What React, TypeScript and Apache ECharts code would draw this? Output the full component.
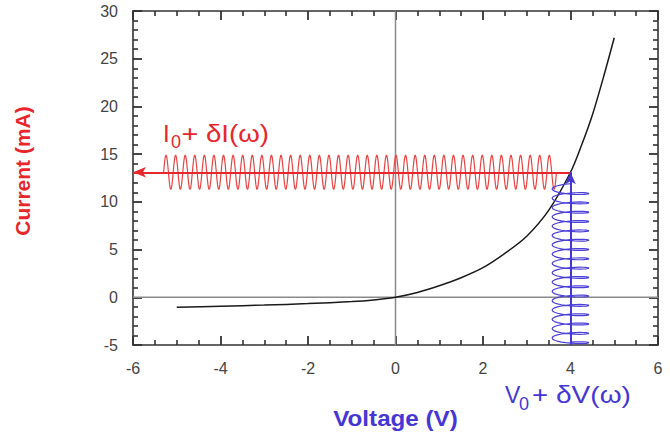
import { useEffect, useRef } from "react";
import * as echarts from "echarts";

// Axis ranges
const X_MIN = -6;
const X_MAX = 6;
const X_INTERVAL = 2;
const Y_MIN = -5;
const Y_MAX = 30;
const Y_INTERVAL = 5;

// I-V characteristic
const voltage = [-5, -4, -3, -2, -1, -0.5, 0, 0.5, 1, 1.5, 2, 2.5, 3, 3.5, 4, 4.25, 4.5, 4.75, 5];
const current = [-1.05, -0.93, -0.82, -0.66, -0.45, -0.28, 0, 0.5, 1.2, 2.05, 3.1, 4.6, 6.4, 9.1, 13.1, 15.9, 19.1, 23.0, 27.2];

// Operating point
const V0 = 4;
const I0 = 13.1;

// Schematic small-signal waves (parameters)
const currentWaveStart = -5.3;
const currentWaveEnd = 3.68;
const currentWaveAmplitude = 1.8;
const currentWaveCycles = 41;

const voltageWaveStart = -5;
const voltageWaveEnd = 11.6;
const voltageWaveAmplitude = 0.42;
const voltageWaveLoop = 0.3;
const voltageWaveCycles = 17;

const RED = "#e8262b";
const BLUE = "#4636d6";
const FRAME = "#333333";

function buildCurrentWave() {
  const n = currentWaveCycles * 16;
  const pts: number[][] = [];
  for (let i = 0; i <= n; i++) {
    const f = i / n;
    pts.push([
      currentWaveStart + (currentWaveEnd - currentWaveStart) * f,
      I0 + currentWaveAmplitude * Math.sin(2 * Math.PI * currentWaveCycles * f),
    ]);
  }
  return pts;
}

function buildVoltageWave() {
  const n = voltageWaveCycles * 24;
  const pts: number[][] = [];
  for (let i = 0; i <= n; i++) {
    const f = i / n;
    const t = 2 * Math.PI * voltageWaveCycles * f;
    pts.push([
      V0 + voltageWaveAmplitude * Math.sin(t),
      voltageWaveStart + (voltageWaveEnd - voltageWaveStart) * f + voltageWaveLoop * Math.cos(t),
    ]);
  }
  return pts;
}

function axis(position: string, showLabel: boolean, splitNumber: number, min: number, max: number, interval: number) {
  return {
    type: "value",
    position,
    min,
    max,
    interval,
    axisLine: { show: true, onZero: false, lineStyle: { color: FRAME, width: 1.6 } },
    axisTick: { show: true, inside: true, length: 9, lineStyle: { color: FRAME, width: 1.8 } },
    minorTick: { show: true, splitNumber, length: 5, lineStyle: { color: FRAME, width: 1.6 } },
    splitLine: { show: false },
    axisLabel: {
      show: showLabel,
      color: "#444444",
      fontSize: 16,
      fontFamily: "Liberation Sans, Arial, sans-serif",
      margin: 15,
    },
  };
}

function txt(text: string, x: number, y: number, size: number, color: string, opts: any = {}) {
  const align = opts.align ?? "left";
  return {
    type: "text",
    x,
    y,
    scaleX: opts.scaleX ?? 1,
    rotation: opts.rotation ?? 0,
    silent: true,
    z: 10,
    style: {
      text,
      x: 0,
      y: 0,
      fill: color,
      font: `${opts.weight ?? "bold"} ${size}px "Liberation Sans", Arial, sans-serif`,
      align,
      verticalAlign: "middle",
      textAlign: align,
      textVerticalAlign: "middle",
    },
  };
}

export default function App() {
  const ref = useRef<HTMLDivElement>(null);

  useEffect(() => {
    if (!ref.current) return;
    const chart = echarts.init(ref.current, null, { renderer: "svg" });

    const curve = voltage.map((v, i) => [v, current[i]]);

    chart.setOption({
      animation: false,
      grid: { left: 133, right: 12, top: 11, bottom: 87 },
      xAxis: [
        axis("bottom", true, 4, X_MIN, X_MAX, X_INTERVAL),
        axis("top", false, 4, X_MIN, X_MAX, X_INTERVAL),
      ],
      yAxis: [
        axis("left", true, 5, Y_MIN, Y_MAX, Y_INTERVAL),
        axis("right", false, 5, Y_MIN, Y_MAX, Y_INTERVAL),
      ],
      series: [
        {
          name: "zeroV",
          type: "line",
          data: [[0, Y_MIN], [0, Y_MAX]],
          showSymbol: false,
          silent: true,
          lineStyle: { color: "#8a8a8a", width: 1.5 },
          z: 1,
        },
        {
          name: "zeroI",
          type: "line",
          data: [[X_MIN, 0], [X_MAX, 0]],
          showSymbol: false,
          silent: true,
          lineStyle: { color: "#8a8a8a", width: 1.5 },
          z: 1,
        },
        {
          name: "I-V",
          type: "line",
          data: curve,
          showSymbol: false,
          smooth: 0.3,
          silent: true,
          lineStyle: { color: "#1a1a1a", width: 1.5 },
          z: 3,
        },
        {
          name: "current wave",
          type: "line",
          data: buildCurrentWave(),
          showSymbol: false,
          silent: true,
          lineStyle: { color: "#e84444", width: 1.2 },
          z: 4,
          markLine: {
            silent: true,
            symbol: ["none", "arrow"],
            symbolSize: [8, 13],
            label: { show: false },
            lineStyle: { color: RED, width: 2, type: "solid" },
            data: [[{ coord: [V0, I0] }, { coord: [X_MIN, I0] }]],
          },
        },
        {
          name: "voltage wave",
          type: "line",
          data: buildVoltageWave(),
          showSymbol: false,
          silent: true,
          lineStyle: { color: "#4b3fd8", width: 1.2 },
          z: 4,
          markLine: {
            silent: true,
            symbol: ["none", "arrow"],
            symbolSize: [8, 12],
            label: { show: false },
            lineStyle: { color: BLUE, width: 2, type: "solid" },
            data: [[{ coord: [V0, Y_MIN] }, { coord: [V0, I0] }]],
          },
        },
      ],
      graphic: [
        txt("Current (mA)", 22, 171, 21, RED, { align: "center", rotation: Math.PI / 2 }),
        txt("Voltage (V)", 395.5, 418.5, 22, BLUE, { align: "center", scaleX: 1.1 }),
        txt("I", 163, 133.5, 24, RED, { weight: "normal" }),
        txt("0", 171, 142, 18, RED, { weight: "normal" }),
        txt("+", 190, 133.5, 24, RED, { align: "center", scaleX: 1.2, weight: "normal" }),
        txt("δI(ω)", 206, 133.5, 24, RED, { scaleX: 1.15, weight: "normal" }),
        txt("V", 505, 395, 23, BLUE, { weight: "normal" }),
        txt("0", 519, 404, 18, BLUE, { weight: "normal" }),
        txt("+", 540, 395, 23, BLUE, { align: "center", scaleX: 1.2, weight: "normal" }),
        txt("δV(ω)", 556, 395, 23, BLUE, { scaleX: 1.22, weight: "normal" }),
      ],
    });

    return () => chart.dispose();
  }, []);

  return (
    <div
      ref={ref}
      style={{ position: "absolute", left: 0, top: 0, width: 670, height: 432 }}
    />
  );
}
